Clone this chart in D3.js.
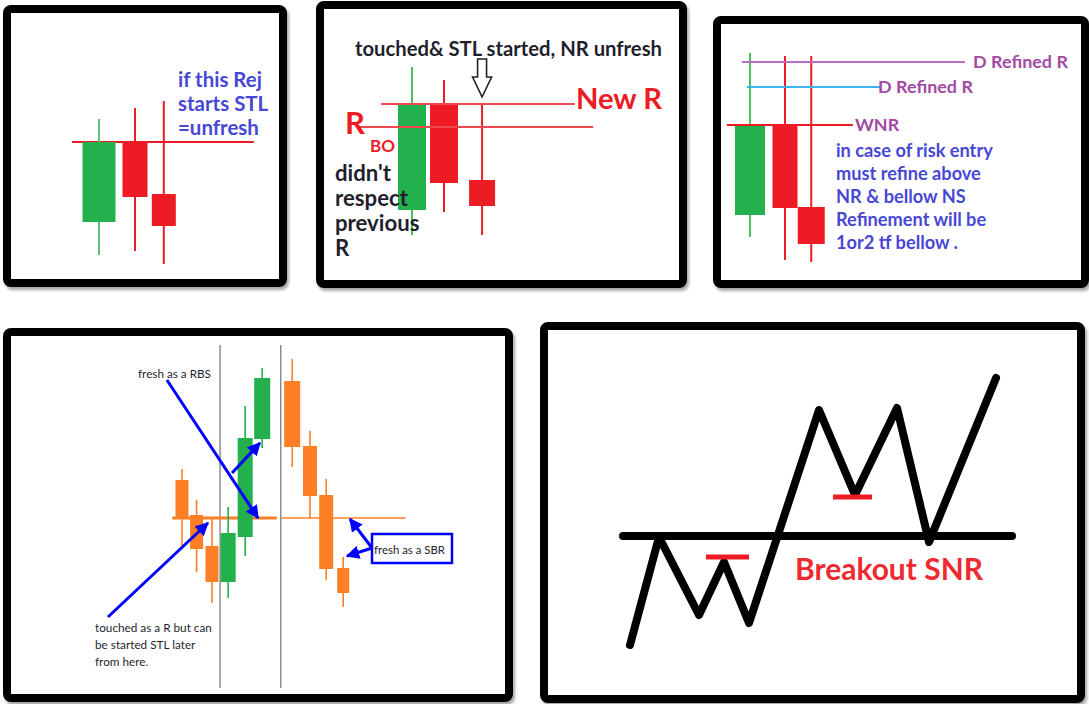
<!DOCTYPE html>
<html>
<head>
<meta charset="utf-8">
<script src="https://cdn.jsdelivr.net/npm/d3@7"></script>
<style>
  body { margin: 0; background: #fff; }
  svg { display: block; }
  text { font-family: Lato, "Open Sans", sans-serif; }
</style>
</head>
<body>
<div id="chart"></div>
<script>
let w = 1089;
let h = 704;

// ---- data (price units are arbitrary per panel) ----

// panel 1: rejection
let rejCandles = [
  {t: 0,   o: 48,  h: 151, l: 15, c: 128},
  {t: 1,   o: 128, h: 162, l: 19, c: 73},
  {t: 1.8, o: 76,  h: 169, l: 6,  c: 44}
];
let rejLevel = 128;
let rejNote = ["if this Rej", "starts STL", "=unfresh"];

// panel 2: breakout of R
let boCandles = [
  {t: 0,    o: 40,  h: 183, l: 15, c: 146},
  {t: 1,    o: 146, h: 170, l: 38, c: 67},
  {t: 2.19, o: 70,  h: 146, l: 15, c: 44}
];
let newRLevel = 146;
let oldRLevel = 123;
let boTitle = "touched& STL started, NR unfresh";
let boNote = ["didn't", "respect", "previous", "R"];

// panel 3: refinement
let refCandles = [
  {t: 0,    o: 55, h: 217, l: 33, c: 145},
  {t: 1,    o: 145, h: 214, l: 10, c: 62},
  {t: 1.75, o: 63, h: 214, l: 8,  c: 26}
];
let refLevels = [208, 183, 145];
let refLabels = ["D Refined R", "D Refined R", "WNR"];
let refNote = ["in case of risk entry", "must refine above", "NR & bellow NS", "Refinement will be", "1or2 tf bellow ."];

// panel 4: RBS / SBR
let flipCandles = [
  {t: 0,    o: 140, h: 151, l: 73,  c: 101},
  {t: 0.9,  o: 105, h: 120, l: 48,  c: 71},
  {t: 1.85, o: 74,  h: 103, l: 17,  c: 38},
  {t: 2.85, o: 38,  h: 113, l: 22,  c: 87},
  {t: 3.9,  o: 83,  h: 214, l: 64,  c: 182},
  {t: 4.95, o: 181, h: 252, l: 172, c: 242},
  {t: 6.8,  o: 239, h: 261, l: 153, c: 173},
  {t: 7.9,  o: 174, h: 189, l: 102, c: 124},
  {t: 8.9,  o: 125, h: 141, l: 40,  c: 51},
  {t: 9.95, o: 52,  h: 63,  l: 13,  c: 27}
];
let flipLevel = 102;
let flipSeparators = [2.35, 6.1];
let rbsNote = "fresh as a RBS";
let sbrNote = "fresh as a SBR";
let touchNote = ["touched as a R but can", "be started STL later", "from here."];

// panel 5: breakout zigzag
let zigT = [10, 39, 79, 104, 129, 199, 235, 277, 309, 376];
let zigP = [35, 143, 65, 118, 57, 270, 185, 272, 138, 302];
let snrLevel = 144;
let pullbacks = [{t0: 86, t1: 129, v: 123}, {t0: 213, t1: 252, v: 183}];
let snrLabel = "Breakout SNR";

// ---- drawing ----
let viz = d3.select("#chart")
  .append("svg")
  .attr("width", w)
  .attr("height", h)
  .style("background-color", "white");

let defs = viz.append("defs");
let shadow = defs.append("filter").attr("id", "shadow")
  .attr("x", "-5%").attr("y", "-5%").attr("width", "115%").attr("height", "115%");
shadow.append("feDropShadow").attr("dx", 2).attr("dy", 3)
  .attr("stdDeviation", 1.5).attr("flood-color", "#000").attr("flood-opacity", 0.35);

defs.append("marker").attr("id", "head")
  .attr("viewBox", "0 0 10 10").attr("refX", 9).attr("refY", 5)
  .attr("markerWidth", 4.5).attr("markerHeight", 4.5)
  .attr("orient", "auto")
  .append("path").attr("d", "M0,0 L10,5 L0,10 z").attr("fill", "#0000ff");

let green = "#22b14c";
let red = "#ed1c24";
let orange = "#ff7f27";
let violet = "#a349a4";
let ink = "#1f1f2e";
let blueText = "#4747d6";

function frame(x, y, fw, fh) {
  viz.append("rect")
    .attr("x", x + 4).attr("y", y + 4)
    .attr("width", fw - 8).attr("height", fh - 8)
    .attr("rx", 4)
    .attr("fill", "white")
    .attr("stroke", "#000")
    .attr("stroke-width", 8)
    .attr("filter", "url(#shadow)");
}

function scales(cfg) {
  let xs = d3.scaleLinear().domain([0, 1]).range([cfg.x0, cfg.x0 + cfg.step]);
  let ys = d3.scaleLinear().domain([0, 200]).range([cfg.ybase, cfg.ybase - 200]);
  return {xs: xs, ys: ys};
}

function drawCandles(g, data, cfg, s) {
  let up = cfg.up, down = cfg.down;
  g.selectAll(".wick").data(data).enter()
    .append("line")
    .attr("x1", d => s.xs(d.t)).attr("x2", d => s.xs(d.t))
    .attr("y1", d => s.ys(d.h)).attr("y2", d => s.ys(d.l))
    .attr("stroke", d => d.c > d.o ? (cfg.upWick || up) : down)
    .attr("stroke-width", cfg.wickW);
  g.selectAll(".body").data(data).enter()
    .append("rect")
    .attr("x", (d, i) => s.xs(d.t) - cfg.bodyW[i] / 2)
    .attr("y", d => s.ys(Math.max(d.o, d.c)))
    .attr("width", (d, i) => cfg.bodyW[i])
    .attr("height", d => Math.abs(s.ys(d.o) - s.ys(d.c)))
    .attr("fill", d => d.c > d.o ? up : down);
}

// scale font so the first line spans the width seen in the picture
function fit(sel, target) {
  let node = sel.node();
  let first = node.querySelector("tspan") || node;
  let len = first.getComputedTextLength();
  let fs = +sel.attr("font-size");
  sel.attr("font-size", (fs * target / len).toFixed(2));
  return sel;
}

function lines(g, arr, x, y, dy, size, color, weight) {
  let t = g.append("text").attr("x", x).attr("y", y)
    .attr("font-size", size).attr("font-weight", weight).attr("fill", color);
  arr.forEach((s, i) => {
    t.append("tspan").attr("x", x).attr("y", y + i * dy).text(s);
  });
  return t;
}

// panel 1
frame(3, 5, 284, 282);
{
  let cfg = {x0: 99, step: 36, ybase: 270, bodyW: [33, 25, 24], wickW: 2, up: green, down: red, upWick: "#5cc46e"};
  let s = scales(cfg);
  let g = viz.append("g");
  g.append("line")
    .attr("x1", s.xs(-0.75)).attr("x2", s.xs(4.3))
    .attr("y1", s.ys(rejLevel)).attr("y2", s.ys(rejLevel))
    .attr("stroke", red).attr("stroke-width", 2);
  drawCandles(g, rejCandles, cfg, s);
  fit(lines(g, rejNote, 178, 87, 24, 17, blueText, 700), 84);
}

// panel 2
frame(316, 1, 371, 287);
{
  let cfg = {x0: 412, step: 32, ybase: 250, bodyW: [28, 28, 26], wickW: 2, up: green, down: red, upWick: "#4cc060"};
  let s = scales(cfg);
  let g = viz.append("g");
  drawCandles(g, boCandles, cfg, s);
  g.append("line")
    .attr("x1", s.xs(-0.97)).attr("x2", s.xs(5.09))
    .attr("y1", s.ys(newRLevel)).attr("y2", s.ys(newRLevel))
    .attr("stroke", "#f0474e").attr("stroke-width", 2);
  g.append("line")
    .attr("x1", s.xs(-1.69)).attr("x2", s.xs(5.66))
    .attr("y1", s.ys(oldRLevel)).attr("y2", s.ys(oldRLevel))
    .attr("stroke", "#f0474e").attr("stroke-width", 2);
  fit(g.append("text").attr("x", 355).attr("y", 56)
    .attr("font-size", 17.5).attr("font-weight", 700).attr("fill", ink).text(boTitle), 307);
  // hollow down arrow
  let ax = s.xs(2.19);
  g.append("path")
    .attr("d", `M${ax - 4.5},59 h9 v18 h5 l-9.5,20 l-9.5,-20 h5 z`)
    .attr("fill", "white").attr("stroke", "#222").attr("stroke-width", 1.6);
  fit(g.append("text").attr("x", 576).attr("y", 109)
    .attr("font-size", 24).attr("font-weight", 700).attr("fill", red).text("New R"), 86);
  fit(g.append("text").attr("x", 345).attr("y", 134)
    .attr("font-size", 24).attr("font-weight", 700).attr("fill", red).text("R"), 20);
  fit(g.append("text").attr("x", 370).attr("y", 152)
    .attr("font-size", 15).attr("font-weight", 700).attr("fill", red).text("BO"), 25);
  fit(lines(g, boNote, 335, 181, 25, 17, ink, 700), 56);
}

// panel 3
frame(713, 16, 376, 272);
{
  let cfg = {x0: 750, step: 35, ybase: 270, bodyW: [30, 25, 27], wickW: 2, up: green, down: red, upWick: "#4cc060"};
  let s = scales(cfg);
  let g = viz.append("g");
  drawCandles(g, refCandles, cfg, s);
  let ext = [[-0.23, 6.14], [-0.09, 3.71], [-0.66, 2.94]];
  let col = ["#b86fc0", "#3fb3ec", red];
  let lx = [973, 878, 855];
  let labelSize = 16;
  refLevels.forEach((v, i) => {
    g.append("line")
      .attr("x1", s.xs(ext[i][0])).attr("x2", s.xs(ext[i][1]))
      .attr("y1", s.ys(v)).attr("y2", s.ys(v))
      .attr("stroke", col[i]).attr("stroke-width", 2);
    let t = g.append("text").attr("x", lx[i]).attr("y", s.ys(v) + 6)
      .attr("font-size", labelSize).attr("font-weight", 700).attr("fill", violet)
      .text(refLabels[i]);
    if (i == 0) { fit(t, 95); labelSize = +t.attr("font-size"); }
  });
  fit(lines(g, refNote, 836, 157, 23, 15, blueText, 700), 157);
}

// panel 4
frame(3, 328, 510, 374);
{
  let cfg = {x0: 182, step: 16.2, ybase: 620, bodyW: [13, 13, 13, 15, 15, 16, 16, 14, 14, 12], wickW: 1.6, up: green, down: orange};
  let s = scales(cfg);
  let g = viz.append("g");
  flipSeparators.forEach(t => {
    g.append("line")
      .attr("x1", s.xs(t)).attr("x2", s.xs(t))
      .attr("y1", 345).attr("y2", 688)
      .attr("stroke", "#555").attr("stroke-width", 1);
  });
  g.append("line")
    .attr("x1", s.xs(-0.6)).attr("x2", s.xs(5.85))
    .attr("y1", s.ys(flipLevel)).attr("y2", s.ys(flipLevel))
    .attr("stroke", orange).attr("stroke-width", 3);
  g.append("line")
    .attr("x1", s.xs(6.1)).attr("x2", s.xs(13.8))
    .attr("y1", s.ys(flipLevel)).attr("y2", s.ys(flipLevel))
    .attr("stroke", orange).attr("stroke-width", 1.3);
  drawCandles(g, flipCandles, cfg, s);

  let arrows = [
    [-0.93, 240, 4.69, 102],
    [3.09, 147, 4.81, 177],
    [-4.57, 3, 1.6, 97],
    [11.73, 72, 10.37, 101],
    [11.73, 72, 10.19, 64]
  ];
  arrows.forEach(a => {
    g.append("line")
      .attr("x1", s.xs(a[0])).attr("y1", s.ys(a[1]))
      .attr("x2", s.xs(a[2])).attr("y2", s.ys(a[3]))
      .attr("stroke", "#0000ff").attr("stroke-width", 3)
      .attr("marker-end", "url(#head)");
  });
  fit(g.append("text").attr("x", 138).attr("y", 378)
    .attr("font-size", 11).attr("fill", ink).text(rbsNote), 73);
  fit(lines(g, touchNote, 95, 632, 17, 11.5, ink, 400), 117);
  g.append("rect").attr("x", 372).attr("y", 534).attr("width", 80).attr("height", 29)
    .attr("fill", "white").attr("stroke", "#0000ff").attr("stroke-width", 2.5);
  fit(g.append("text").attr("x", 374).attr("y", 554)
    .attr("font-size", 11).attr("fill", ink).text(sbrNote), 71);
}

// panel 5
frame(540, 322, 545, 381);
{
  let cfg = {x0: 620, step: 1, ybase: 680};
  let s = scales(cfg);
  let g = viz.append("g");
  g.append("line")
    .attr("x1", s.xs(3)).attr("x2", s.xs(392))
    .attr("y1", s.ys(snrLevel)).attr("y2", s.ys(snrLevel))
    .attr("stroke", "#000").attr("stroke-width", 8).attr("stroke-linecap", "round");
  let pts = zigT.map((t, i) => [t, zigP[i]]);
  g.append("path")
    .attr("d", d3.line().x(d => s.xs(d[0])).y(d => s.ys(d[1]))(pts))
    .attr("fill", "none").attr("stroke", "#000").attr("stroke-width", 8)
    .attr("stroke-linecap", "round").attr("stroke-linejoin", "round");
  g.selectAll(".pb").data(pullbacks).enter()
    .append("line")
    .attr("x1", d => s.xs(d.t0)).attr("x2", d => s.xs(d.t1))
    .attr("y1", d => s.ys(d.v)).attr("y2", d => s.ys(d.v))
    .attr("stroke", red).attr("stroke-width", 5);
  fit(g.append("text").attr("x", 795).attr("y", 580)
    .attr("font-size", 25).attr("font-weight", 700).attr("fill", "#ee2a33").text(snrLabel), 188);
}
</script>
</body>
</html>
